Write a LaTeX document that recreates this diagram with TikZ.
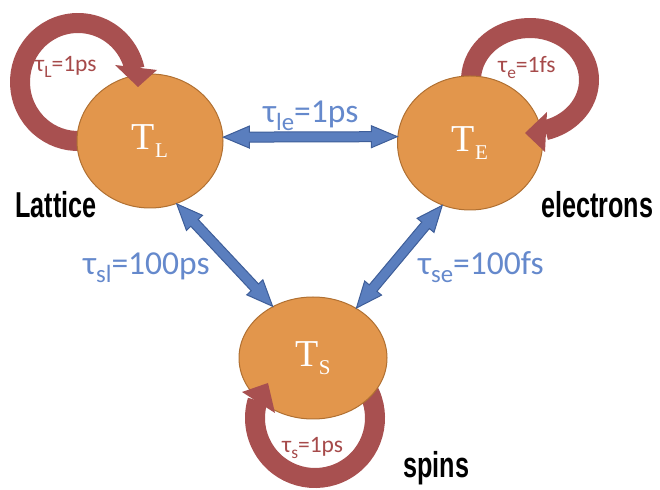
\documentclass[tikz,border=0pt]{standalone}
\usepackage{fontspec}
\setmainfont{Carlito}
\newfontfamily\labelfont[FakeStretch=0.7]{Liberation Sans Bold}
\newfontfamily\tfont{Liberation Serif}
\usetikzlibrary{shapes.geometric,calc}
\definecolor{orangec}{RGB}{226,150,76}
\definecolor{borderc}{RGB}{176,112,50}
\definecolor{ringc}{RGB}{168,80,80}
\definecolor{bluec}{RGB}{90,126,190}
\definecolor{blueedge}{RGB}{62,94,153}
\definecolor{bluetext}{RGB}{101,137,204}
\definecolor{redtext}{RGB}{166,74,74}
\newcommand\lowsub[1]{\raisebox{-0.22em}{\scalebox{0.74}{#1}}}
\newcommand\tlab[1]{{\tfont\fontsize{38}{38}\selectfont T\raisebox{-8pt}{\fontsize{21}{21}\selectfont #1}}}
\newcommand\dblarrow[2]{%
  \path[blueshaft] let \p1=(#1), \p2=(#2), \n1={atan2(\y2-\y1,\x2-\x1)}, \n2={veclen(\x2-\x1,\y2-\y1)} in
  [shift={(\p1)}, rotate=\n1]
  (0pt,0pt) -- (26pt,11pt) -- (26pt,5pt) -- ({\n2-26},5pt) -- ({\n2-26},11pt) -- ({\n2},0pt)
  -- ({\n2-26},-11pt) -- ({\n2-26},-5pt) -- (26pt,-5pt) -- (26pt,-11pt) -- cycle;}
\begin{document}
\begin{tikzpicture}[x=1pt,y=1pt,
  temp/.style={ellipse, draw=borderc, line width=1pt, fill=orangec, inner sep=0pt, text=white},
  ring/.style={draw=ringc, line width=20pt},
  ringhead/.style={fill=ringc},
  blueshaft/.style={fill=bluec, draw=blueedge, line width=1pt, line join=miter},
  bluelab/.style={text=bluetext, font=\fontsize{33.5}{33.5}\selectfont, anchor=base west, inner sep=0pt},
  redlab/.style={text=redtext, font=\fontsize{23.5}{23.5}\selectfont, anchor=base west, inner sep=0pt},
  namelab/.style={font=\labelfont\fontsize{36}{36}\selectfont, anchor=base west, inner sep=0pt}]
\useasboundingbox (0,0) rectangle (660,489);
% self-relaxation rings
\draw[ring] (78,407) ++(290:58 and 59) arc[start angle=290, end angle=12.5, x radius=58, y radius=59];
\draw[ring] (530,409) ++(200:59 and 52) arc[start angle=200, end angle=-75, x radius=59, y radius=52];
\draw[ring] (315,71) ++(35:60) arc[start angle=35, end angle=-197, radius=60];
% temperature baths
\node[temp, minimum width=146pt, minimum height=134pt] (tl) at (150,348) {\tlab{L}};
\node[temp, minimum width=145pt, minimum height=134pt] (te) at (470,346) {\tlab{E}};
\node[temp, minimum width=148pt, minimum height=122pt] (ts) at (313,131) {\tlab{S}};
% ring heads
\fill[ringhead] (115,424) -- (138,402) -- (157,419) -- cycle;
\fill[ringhead] (547,377) -- (525,356) -- (545,337) -- cycle;
\fill[ringhead] (242,97) -- (268,106) -- (275,76) -- cycle;
% coupling arrows
\dblarrow{tl.3}{te.175}
\dblarrow{tl.-67}{ts.128}
\dblarrow{te.-114}{ts.49}
% labels
\node[bluelab] (lle) at (263,366) {τ\lowsub{le}=1ps};
\node[bluelab] (lsl) at (83,214) {τ\lowsub{sl}=100ps};
\node[bluelab] (lse) at (418,214) {τ\lowsub{se}=100fs};
\node[redlab] (rl) at (35,417) {τ\lowsub{L}=1ps};
\node[redlab] (re) at (498,416) {τ\lowsub{e}=1fs};
\node[redlab] (rs) at (282,36) {τ\lowsub{s}=1ps};
\node[namelab] (nl) at (15,271) {Lattice};
\node[namelab] (ne) at (541,271) {electrons};
\node[namelab] (ns) at (403,12) {spins};
\end{tikzpicture}
\end{document}
